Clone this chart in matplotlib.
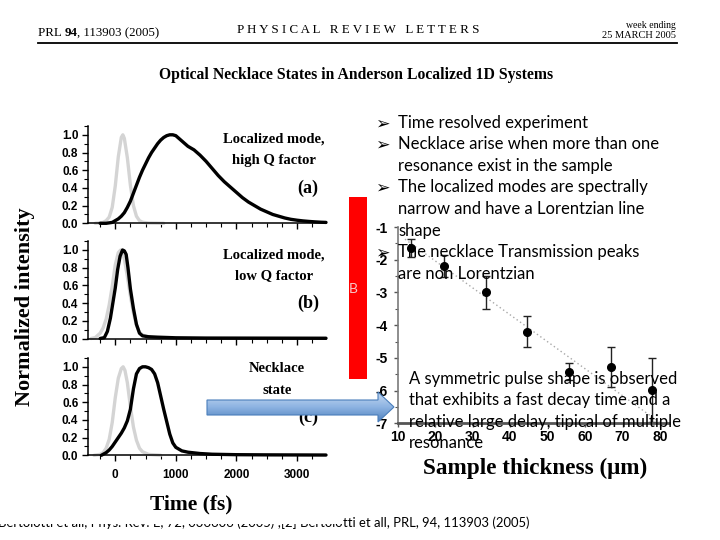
import matplotlib
matplotlib.use('Agg')
import matplotlib.pyplot as plt
import numpy as np
from matplotlib.patches import Rectangle, Polygon
from matplotlib.ticker import MultipleLocator
from matplotlib.colors import LinearSegmentedColormap

# ---------------- data ----------------
time_ticks = [0, 1000, 2000, 3000]
intensity_ticks = [0.0, 0.2, 0.4, 0.6, 0.8, 1.0]

a_ref_t = [-330, -250, -200, -150, -100, -50, 0, 50, 100, 125, 150, 200, 250, 300, 350, 400, 450, 550, 800]
a_ref_i = [0.0, 0.005, 0.01, 0.03, 0.07, 0.18, 0.42, 0.75, 0.97, 1.0, 0.96, 0.74, 0.43, 0.2, 0.08, 0.03, 0.012, 0.003, 0.0]
a_sig_t = [-250, -150, -50, 0, 50, 100, 150, 200, 250, 300, 350, 400, 450, 500, 550, 600, 650, 700, 750, 800,
           850, 900, 950, 1000, 1050, 1100, 1150, 1200, 1300, 1400, 1500, 1600, 1700, 1800, 1900, 2000, 2100,
           2200, 2300, 2400, 2500, 2600, 2700, 2800, 2900, 3000, 3100, 3200, 3300, 3400, 3480]
a_sig_i = [0.0, 0.0, 0.01, 0.03, 0.05, 0.08, 0.12, 0.18, 0.25, 0.34, 0.43, 0.52, 0.60, 0.67, 0.74, 0.80, 0.85,
           0.90, 0.94, 0.97, 0.99, 1.0, 1.0, 0.99, 0.96, 0.93, 0.90, 0.87, 0.83, 0.77, 0.70, 0.62, 0.54, 0.47,
           0.41, 0.35, 0.29, 0.24, 0.20, 0.16, 0.13, 0.10, 0.08, 0.06, 0.045, 0.035, 0.027, 0.021, 0.016, 0.012, 0.01]

b_ref_t = [-400, -330, -250, -200, -150, -100, -50, 0, 50, 90, 150, 200, 250, 300, 350, 400, 450, 550, 750]
b_ref_i = [0.0, 0.01, 0.06, 0.12, 0.22, 0.38, 0.59, 0.83, 0.97, 1.0, 0.90, 0.70, 0.48, 0.29, 0.15, 0.07, 0.04, 0.015, 0.0]
b_sig_t = [-250, -180, -130, -80, -40, 0, 40, 80, 120, 150, 180, 210, 250, 300, 350, 400, 450, 550, 700, 1000, 1500, 2500, 3480]
b_sig_i = [0.0, 0.01, 0.08, 0.23, 0.40, 0.57, 0.78, 0.93, 1.0, 0.99, 0.95, 0.80, 0.56, 0.34, 0.16, 0.06, 0.03, 0.02, 0.015, 0.008, 0.005, 0.004, 0.003]

c_ref_t = [-350, -250, -200, -150, -100, -50, 0, 50, 100, 130, 160, 200, 250, 300, 350, 400, 450, 550, 750]
c_ref_i = [0.0, 0.01, 0.03, 0.08, 0.18, 0.37, 0.65, 0.87, 0.98, 1.0, 0.96, 0.82, 0.55, 0.32, 0.17, 0.08, 0.04, 0.01, 0.0]
c_sig_t = [-230, -150, -100, -50, 0, 50, 100, 150, 200, 250, 300, 350, 400, 450, 500, 550, 600, 650, 700, 750,
           800, 850, 900, 950, 1000, 1100, 1200, 1400, 1600, 2000, 2500, 3000, 3480]
c_sig_i = [0.0, 0.03, 0.06, 0.10, 0.15, 0.20, 0.25, 0.31, 0.39, 0.52, 0.75, 0.92, 0.98, 1.0, 1.0, 0.99, 0.97, 0.92,
           0.82, 0.67, 0.52, 0.38, 0.24, 0.14, 0.09, 0.05, 0.035, 0.02, 0.012, 0.007, 0.005, 0.004, 0.003]

thickness = [13.5, 22.4, 33.5, 44.6, 55.7, 66.9, 77.9]
log_decay = [-1.64, -2.20, -3.00, -4.20, -5.43, -5.27, -5.98]
log_err = [0.27, 0.34, 0.51, 0.47, 0.26, 0.61, 0.97]
fit_thickness = [12, 80]
fit_decay = [-1.37, -6.98]
thickness_ticks = [10, 20, 30, 40, 50, 60, 70, 80]
decay_ticks = [-1, -2, -3, -4, -5, -6, -7]

bullets = [
    (True, "Time resolved experiment"),
    (True, "Necklace arise when more than one"),
    (False, "resonance exist in the sample"),
    (True, "The localized modes are spectrally"),
    (False, "narrow and have a Lorentzian line"),
    (False, "shape"),
    (True, "The necklace Transmission peaks"),
    (False, "are non Lorentzian"),
]
note_lines = ["A symmetric pulse shape is observed",
              "that exhibits a fast decay time and a",
              "relative large delay, tipical of multiple",
              "resonance"]

# ---------------- figure ----------------
W, H = 720, 540
fig = plt.figure(figsize=(7.2, 5.4), dpi=100)
fig.patch.set_facecolor('white')

def frac(x0, ytop, x1, ybot):
    return [x0 / W, 1 - ybot / H, (x1 - x0) / W, (ybot - ytop) / H]

SERIF = 'Liberation Serif'
SANS = 'Liberation Sans'
BODY = ['Lato', 'DejaVu Sans']

panels = [
    (a_ref_t, a_ref_i, a_sig_t, a_sig_i, 223.3),
    (b_ref_t, b_ref_i, b_sig_t, b_sig_i, 338.5),
    (c_ref_t, c_ref_i, c_sig_t, c_sig_i, 455.3),
]
pxu = 88.5
for k, (rt, ri, st, si, y0) in enumerate(panels):
    ax = fig.add_axes(frac(88, y0 - 1.1 * pxu, 326, y0))
    ax.plot(rt, ri, color='#d4d4d4', lw=2.4, clip_on=False, solid_capstyle='round')
    ax.plot(st, si, color='black', lw=2.4, clip_on=False, solid_capstyle='round')
    ax.set_xlim(-450, 3480)
    ax.set_ylim(0, 1.1)
    for s in ['top', 'right']:
        ax.spines[s].set_visible(False)
    for s in ['left', 'bottom']:
        ax.spines[s].set_linewidth(1.1)
    ax.set_yticks(intensity_ticks)
    ax.set_yticklabels([f"{v:.1f}" for v in intensity_ticks])
    ax.yaxis.set_minor_locator(MultipleLocator(0.1))
    ax.set_xticks(time_ticks)
    ax.xaxis.set_minor_locator(MultipleLocator(250))
    ax.tick_params(axis='both', which='major', direction='out', length=4, width=1, pad=3)
    ax.tick_params(axis='both', which='minor', direction='out', length=3, width=0.8)
    for lab in ax.get_yticklabels():
        lab.set_fontfamily(SANS); lab.set_fontweight('bold'); lab.set_fontsize(8.5)
    if k < 2:
        ax.set_xticklabels([])
    else:
        ax.set_xticklabels([str(v) for v in time_ticks])
        ax.tick_params(axis='x', pad=6)
        for lab in ax.get_xticklabels():
            lab.set_fontfamily(SANS); lab.set_fontweight('bold'); lab.set_fontsize(8.5)
    ax.patch.set_alpha(0)

# right chart
rx = fig.add_axes(frac(397.5, 228.7 - 0.05 * 32.4, 397.5 + 72.5 * 3.75, 423.3))
rx.plot(fit_thickness, fit_decay, linestyle=(0, (1, 2)), color='#a8a8a8', lw=1.0)
rx.errorbar(thickness, log_decay, yerr=log_err, fmt='o', color='black', ms=5.5,
            ecolor='#222222', elinewidth=1.0, capsize=3, capthick=1.0)
rx.set_xlim(10, 82.5)
rx.set_ylim(-7, -1.05)
for s in ['top', 'right']:
    rx.spines[s].set_visible(False)
rx.spines['left'].set_color('#7a7a7a'); rx.spines['left'].set_linewidth(1.2)
rx.spines['bottom'].set_color('#555555'); rx.spines['bottom'].set_linewidth(2.0)
rx.set_xticks(thickness_ticks)
rx.set_xticklabels([str(v) for v in thickness_ticks])
rx.set_yticks(decay_ticks)
rx.set_yticklabels([str(v) for v in decay_ticks])
rx.yaxis.set_minor_locator(MultipleLocator(0.5))
rx.tick_params(axis='both', which='major', direction='out', length=3, width=1, color='#555555', pad=4)
rx.tick_params(axis='x', pad=2)
rx.tick_params(axis='y', which='minor', direction='out', length=2, width=0.8, color='#555555')
for lab in rx.get_xticklabels() + rx.get_yticklabels():
    lab.set_fontfamily(SANS); lab.set_fontweight('bold'); lab.set_fontsize(10)
rx.patch.set_alpha(0)

# ---------------- overlay ----------------
ov = fig.add_axes([0, 0, 1, 1], zorder=10)
ov.patch.set_alpha(0)
ov.axis('off')
ov.set_xlim(0, W)
ov.set_ylim(H, 0)

# header
fig.canvas.draw()
rend = fig.canvas.get_renderer()
def right_px(t):
    return t.get_window_extent(renderer=rend).x1
t1 = ov.text(38, 33, "PRL ", fontfamily=SERIF, fontsize=9.3, va='center', ha='left')
t2 = ov.text(right_px(t1), 33, "94", fontfamily=SERIF, fontsize=9.3, fontweight='bold', va='center', ha='left')
ov.text(right_px(t2), 33, ", 113903 (2005)", fontfamily=SERIF, fontsize=9.3, va='center', ha='left')
ov.text(358, 30, "P H Y S I C A L   R E V I E W   L E T T E R S", fontfamily=SERIF, fontsize=9.4,
        va='center', ha='center')
ov.text(676, 26, "week ending", fontfamily=SERIF, fontsize=7, va='center', ha='right')
ov.text(676, 35.5, "25 MARCH 2005", fontfamily=SERIF, fontsize=7.5, va='center', ha='right')
ov.plot([38, 677], [42.5, 42.5], color='black', lw=1.3)
ov.text(356, 75, "Optical Necklace States in Anderson Localized 1D Systems", fontfamily=SERIF,
        fontsize=11.3, fontweight='bold', va='center', ha='center')

# left panel annotations
ov.text(274, 139, "Localized mode,", fontfamily=SERIF, fontsize=10.5, fontweight='bold', va='center', ha='center')
ov.text(274, 160.5, "high Q factor", fontfamily=SERIF, fontsize=10.5, fontweight='bold', va='center', ha='center')
ov.text(308, 188, "(a)", fontfamily=SERIF, fontsize=13, fontweight='bold', va='center', ha='center')
ov.text(274, 255, "Localized mode,", fontfamily=SERIF, fontsize=10.5, fontweight='bold', va='center', ha='center')
ov.text(274, 275.5, "low Q factor", fontfamily=SERIF, fontsize=10.5, fontweight='bold', va='center', ha='center')
ov.text(308, 303, "(b)", fontfamily=SERIF, fontsize=13, fontweight='bold', va='center', ha='center')
ov.text(277, 369, "Necklace", fontfamily=SERIF, fontsize=10.5, fontweight='bold', va='center', ha='center')
ov.text(277, 390, "state", fontfamily=SERIF, fontsize=10.5, fontweight='bold', va='center', ha='center')
ov.text(308, 417, "(c)", fontfamily=SERIF, fontsize=13, fontweight='bold', va='center', ha='center')

ov.text(25, 307, "Normalized intensity", fontfamily=SERIF, fontsize=16, fontweight='bold',
        va='center', ha='center', rotation=90)
ov.text(191, 504, "Time (fs)", fontfamily=SERIF, fontsize=15.5, fontweight='bold', va='center',
        ha='center', zorder=12)
ov.text(535, 468, "Sample thickness (\u03bcm)", fontfamily=SERIF, fontsize=16.7, fontweight='bold',
        va='center', ha='center')

# red block
ov.add_patch(Rectangle((349, 197), 18, 182, facecolor='#ff0000', edgecolor='none', zorder=3))
ov.text(353, 289, "B", fontfamily=BODY, fontsize=10, color='#f6c8c8', va='center', ha='center', zorder=4)

# gradient arrow
arrow_pts = [(207, 400), (378, 400), (378, 392), (394, 407), (378, 422), (378, 415), (207, 415)]
poly = Polygon(arrow_pts, closed=True, facecolor='none', edgecolor='#4a7ebb', lw=0.8, zorder=7)
ov.add_patch(poly)
cmap = LinearSegmentedColormap.from_list('arr', ['#c6d9f1', '#8db3e2', '#4f81bd'])
grad = np.linspace(0, 1, 64).reshape(-1, 1)
im = ov.imshow(grad, extent=[207, 394, 422, 392], origin='upper', cmap=cmap, aspect='auto', zorder=6)
im.set_clip_path(poly)

# bullet text
line_y0, dy = 122.7, 21.57
for i, (has_bullet, txt) in enumerate(bullets):
    y = line_y0 + i * dy
    if has_bullet:
        ov.text(375, y + 0.5, "\u27a2", fontfamily=['DejaVu Sans'], fontsize=12.5, fontweight='bold',
                va='center', ha='left', zorder=8)
    ov.text(398, y, txt, fontfamily=BODY, fontsize=12, va='center', ha='left', zorder=8)
for i, txt in enumerate(note_lines):
    ov.text(409, 379 + i * 21.4, txt, fontfamily=BODY, fontsize=12, va='center', ha='left', zorder=8)

# footer (upper part of the left piece hidden under the picture above it)
ov.text(343, 523, "Bertolotti et all, Phys. Rev. E, 72, 036606 (2005) ;[2] Bertolo", fontfamily=BODY,
        fontsize=9.4, va='center', ha='right')
ov.text(343, 523, "tti et all, PRL, 94, 113903 (2005)", fontfamily=BODY, fontsize=9.4, va='center', ha='left')
ov.add_patch(Rectangle((0, 512), 343, 12, facecolor='white', edgecolor='none', zorder=9))

ov.set_xlim(0, W)
ov.set_ylim(H, 0)

fig.savefig('out.png', dpi=100, facecolor='white')
